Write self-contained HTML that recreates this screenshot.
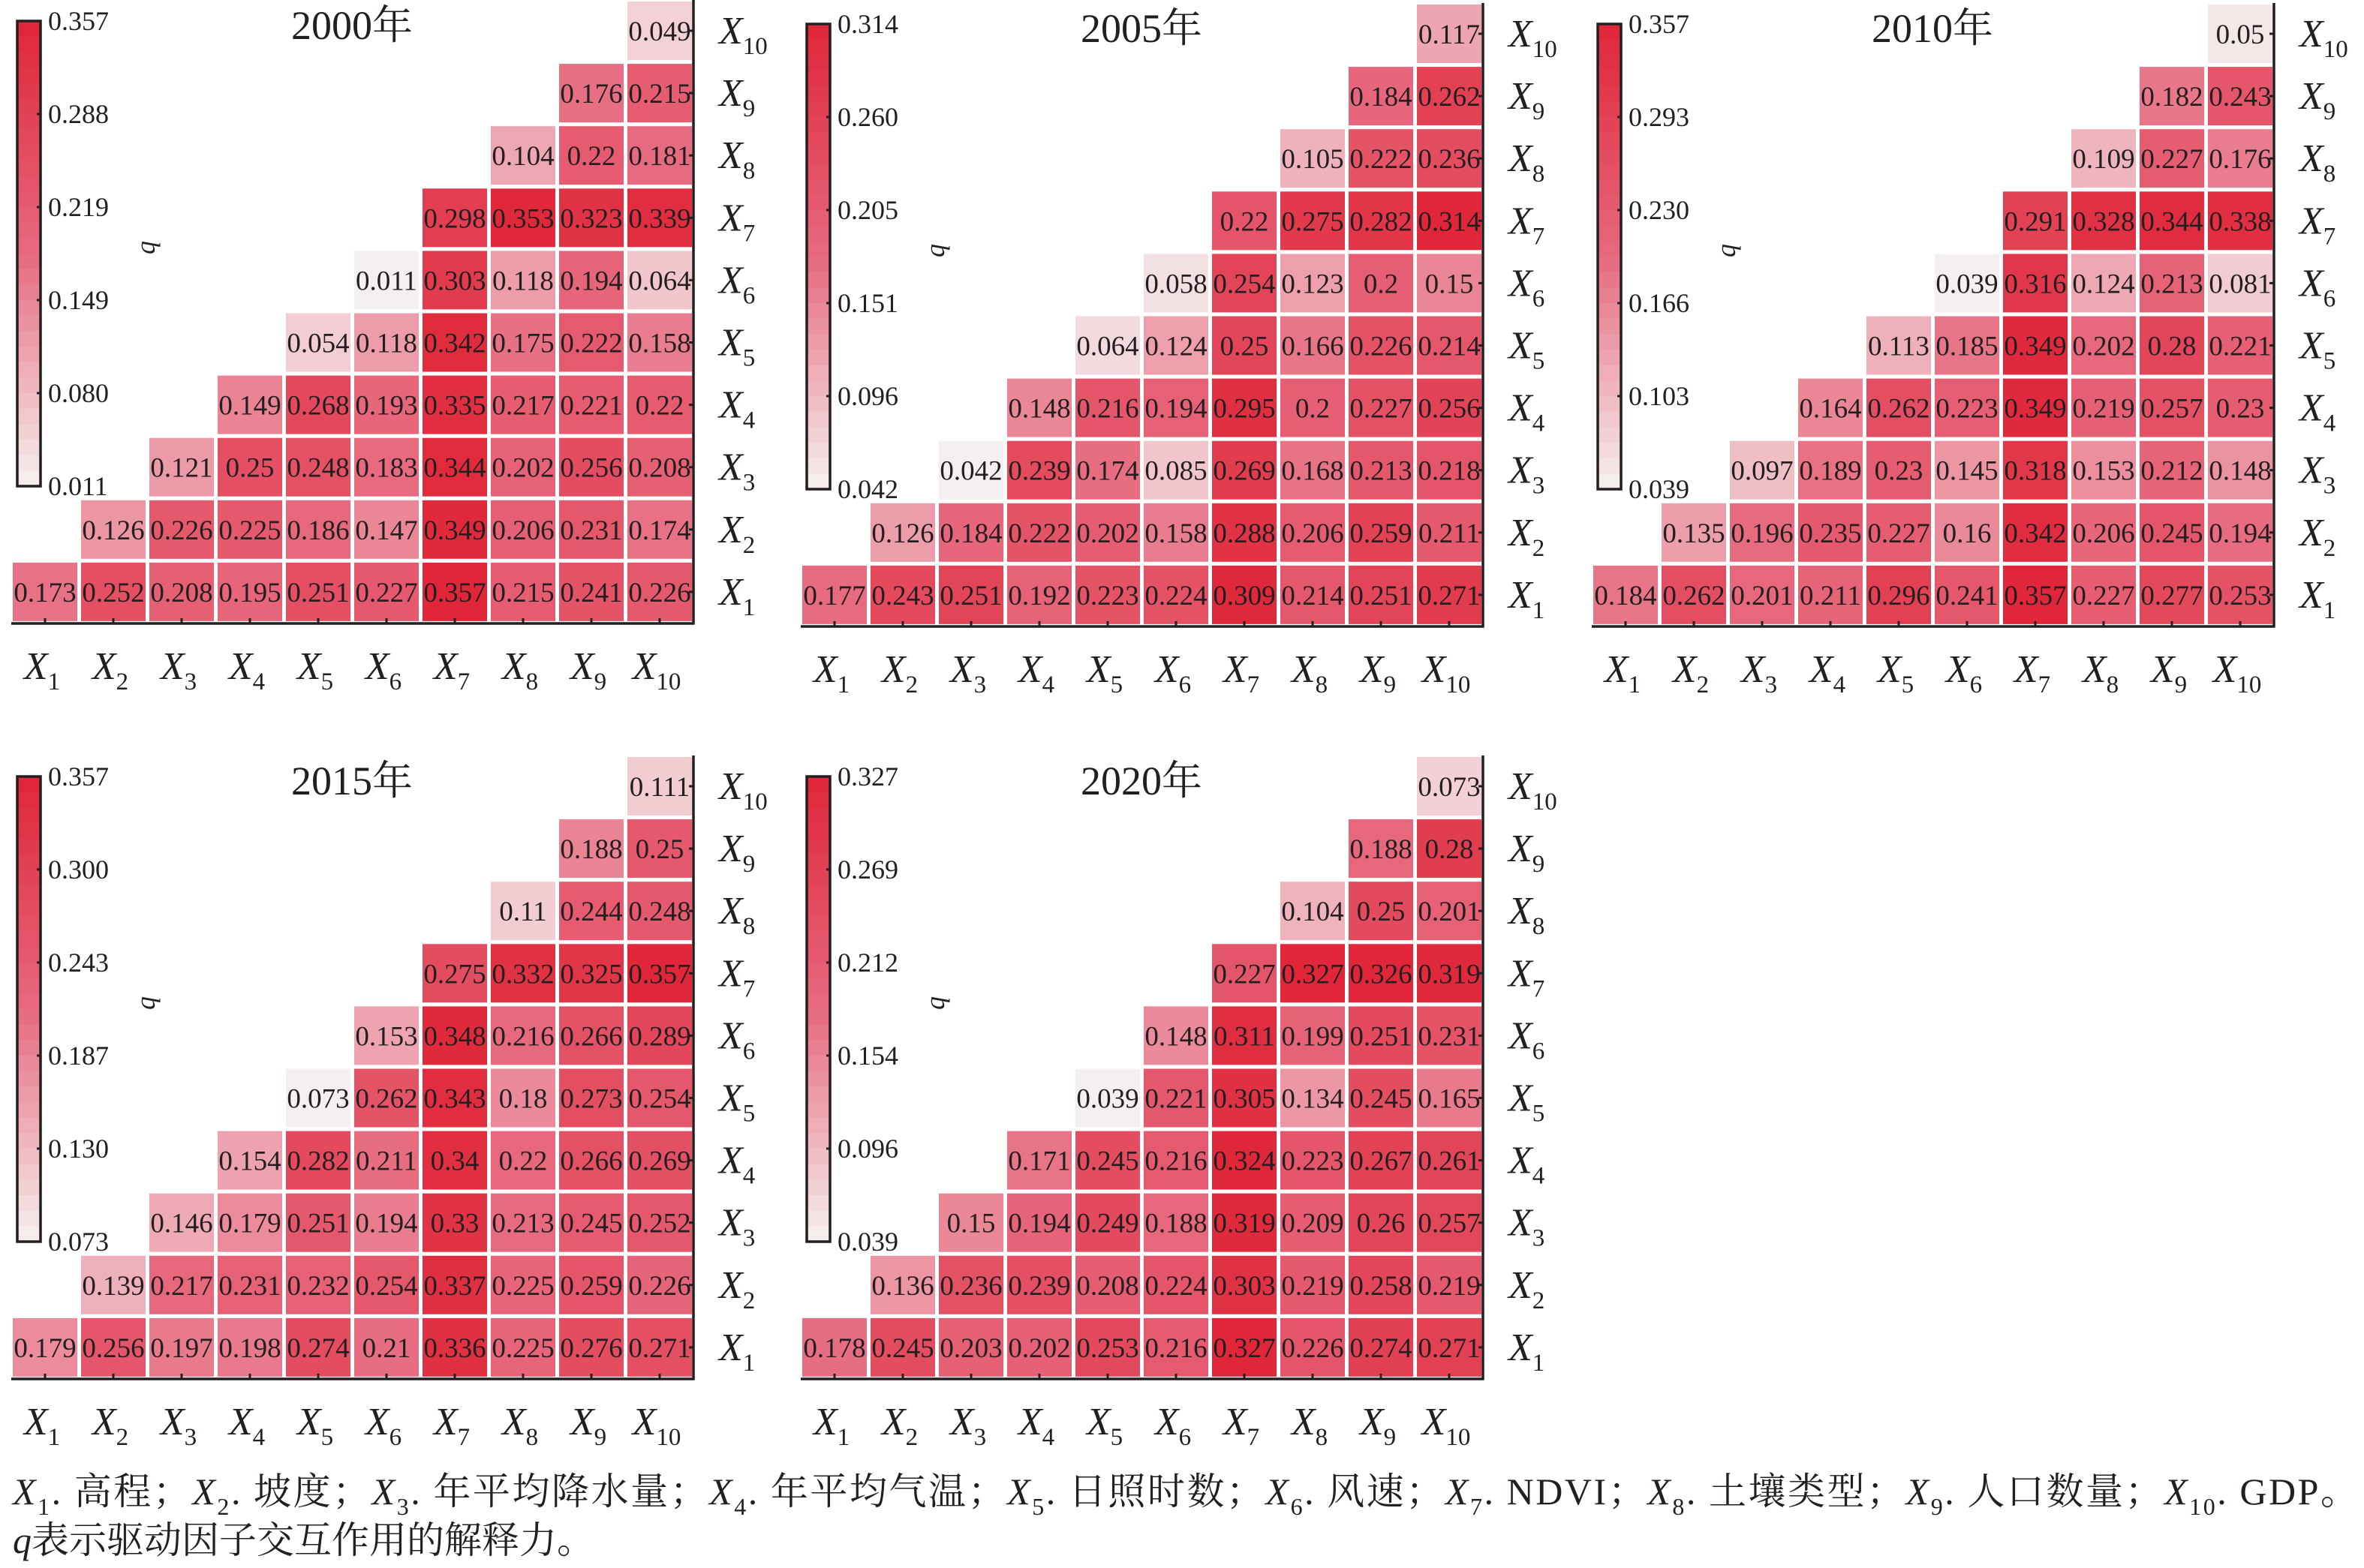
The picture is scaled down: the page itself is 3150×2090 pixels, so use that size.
<!DOCTYPE html>
<html><head><meta charset="utf-8">
<style>
html,body{margin:0;padding:0;background:#fff;}
svg{display:block;}
text{font-family:"Liberation Serif","Noto Serif CJK SC",serif;fill:#231f20;}
</style></head>
<body>
<svg id="s" xmlns="http://www.w3.org/2000/svg" width="3150" height="2090" viewBox="0 0 3150 2090">
<text x="17" y="2005" font-size="50" textLength="3125" lengthAdjust="spacing"><tspan font-style="italic">X</tspan><tspan font-size="32" dy="14">1</tspan><tspan dy="-14">. 高程；</tspan><tspan font-style="italic">X</tspan><tspan font-size="32" dy="14">2</tspan><tspan dy="-14">. 坡度；</tspan><tspan font-style="italic">X</tspan><tspan font-size="32" dy="14">3</tspan><tspan dy="-14">. 年平均降水量；</tspan><tspan font-style="italic">X</tspan><tspan font-size="32" dy="14">4</tspan><tspan dy="-14">. 年平均气温；</tspan><tspan font-style="italic">X</tspan><tspan font-size="32" dy="14">5</tspan><tspan dy="-14">. 日照时数；</tspan><tspan font-style="italic">X</tspan><tspan font-size="32" dy="14">6</tspan><tspan dy="-14">. 风速；</tspan><tspan font-style="italic">X</tspan><tspan font-size="32" dy="14">7</tspan><tspan dy="-14">. NDVI；</tspan><tspan font-style="italic">X</tspan><tspan font-size="32" dy="14">8</tspan><tspan dy="-14">. 土壤类型；</tspan><tspan font-style="italic">X</tspan><tspan font-size="32" dy="14">9</tspan><tspan dy="-14">. 人口数量；</tspan><tspan font-style="italic">X</tspan><tspan font-size="32" dy="14">10</tspan><tspan dy="-14">. GDP。</tspan></text>
<text x="17" y="2070" font-size="50"><tspan font-style="italic">q</tspan>表示驱动因子交互作用的解释力。</text>
</svg>
<script>
var panels=[
{t:"2000年",ox:0,oy:0,ticks:["0.357","0.288","0.219","0.149","0.080","0.011"],mn:0.011,mx:0.357,d:[
[0.173,0.252,0.208,0.195,0.251,0.227,0.357,0.215,0.241,0.226],
[0.126,0.226,0.225,0.186,0.147,0.349,0.206,0.231,0.174],
[0.121,0.25,0.248,0.183,0.344,0.202,0.256,0.208],
[0.149,0.268,0.193,0.335,0.217,0.221,0.22],
[0.054,0.118,0.342,0.175,0.222,0.158],
[0.011,0.303,0.118,0.194,0.064],
[0.298,0.353,0.323,0.339],
[0.104,0.22,0.181],
[0.176,0.215],
[0.049]]},
{t:"2005年",ox:1052,oy:4,ticks:["0.314","0.260","0.205","0.151","0.096","0.042"],mn:0.042,mx:0.314,d:[
[0.177,0.243,0.251,0.192,0.223,0.224,0.309,0.214,0.251,0.271],
[0.126,0.184,0.222,0.202,0.158,0.288,0.206,0.259,0.211],
[0.042,0.239,0.174,0.085,0.269,0.168,0.213,0.218],
[0.148,0.216,0.194,0.295,0.2,0.227,0.256],
[0.064,0.124,0.25,0.166,0.226,0.214],
[0.058,0.254,0.123,0.2,0.15],
[0.22,0.275,0.282,0.314],
[0.105,0.222,0.236],
[0.184,0.262],
[0.117]]},
{t:"2010年",ox:2106,oy:4,ticks:["0.357","0.293","0.230","0.166","0.103","0.039"],mn:0.039,mx:0.357,d:[
[0.184,0.262,0.201,0.211,0.296,0.241,0.357,0.227,0.277,0.253],
[0.135,0.196,0.235,0.227,0.16,0.342,0.206,0.245,0.194],
[0.097,0.189,0.23,0.145,0.318,0.153,0.212,0.148],
[0.164,0.262,0.223,0.349,0.219,0.257,0.23],
[0.113,0.185,0.349,0.202,0.28,0.221],
[0.039,0.316,0.124,0.213,0.081],
[0.291,0.328,0.344,0.338],
[0.109,0.227,0.176],
[0.182,0.243],
[0.05]]},
{t:"2015年",ox:0,oy:1007,ticks:["0.357","0.300","0.243","0.187","0.130","0.073"],mn:0.073,mx:0.357,d:[
[0.179,0.256,0.197,0.198,0.274,0.21,0.336,0.225,0.276,0.271],
[0.139,0.217,0.231,0.232,0.254,0.337,0.225,0.259,0.226],
[0.146,0.179,0.251,0.194,0.33,0.213,0.245,0.252],
[0.154,0.282,0.211,0.34,0.22,0.266,0.269],
[0.073,0.262,0.343,0.18,0.273,0.254],
[0.153,0.348,0.216,0.266,0.289],
[0.275,0.332,0.325,0.357],
[0.11,0.244,0.248],
[0.188,0.25],
[0.111]]},
{t:"2020年",ox:1052,oy:1007,ticks:["0.327","0.269","0.212","0.154","0.096","0.039"],mn:0.039,mx:0.327,d:[
[0.178,0.245,0.203,0.202,0.253,0.216,0.327,0.226,0.274,0.271],
[0.136,0.236,0.239,0.208,0.224,0.303,0.219,0.258,0.219],
[0.15,0.194,0.249,0.188,0.319,0.209,0.26,0.257],
[0.171,0.245,0.216,0.324,0.223,0.267,0.261],
[0.039,0.221,0.305,0.134,0.245,0.165],
[0.148,0.311,0.199,0.251,0.231],
[0.227,0.327,0.326,0.319],
[0.104,0.25,0.201],
[0.188,0.28],
[0.073]]}
];
function col(t){
  var a=[245,240,240],b=[231,105,126],c=[224,38,56],p,q,u;
  if(t<0.5){p=a;q=b;u=t*2;}else{p=b;q=c;u=(t-0.5)*2;}
  return "rgb("+Math.round(p[0]+(q[0]-p[0])*u)+","+Math.round(p[1]+(q[1]-p[1])*u)+","+Math.round(p[2]+(q[2]-p[2])*u)+")";
}
var h="";
panels.forEach(function(P){
  var ox=P.ox,oy=P.oy;
  h+='<g transform="translate('+ox+','+oy+')">';
  for(var j=1;j<=10;j++){
    var row=P.d[j-1];
    var yt=2+(10-j)*83.1;
    for(var k=0;k<row.length;k++){
      var c=j+k; var x=17+91*(c-1);
      var v=row[k];
      h+='<rect x="'+x+'" y="'+yt.toFixed(1)+'" width="86" height="78" fill="'+col((v-P.mn)/(P.mx-P.mn))+'"/>';
      h+='<text x="'+(x+43)+'" y="'+(yt+52).toFixed(1)+'" font-size="37" text-anchor="middle">'+String(v)+'</text>';
    }
    var cy=yt+39;
    h+='<line x1="918" y1="'+cy.toFixed(1)+'" x2="924" y2="'+cy.toFixed(1)+'" stroke="#231f20" stroke-width="3"/>';
    h+='<text x="958" y="'+(cy+17).toFixed(1)+'" font-size="52"><tspan font-style="italic">X</tspan><tspan font-size="33" dy="14">'+j+'</tspan></text>';
  }
  for(var c=1;c<=10;c++){
    var cx=17+91*(c-1)+43;
    h+='<line x1="'+cx+'" y1="824" x2="'+cx+'" y2="831" stroke="#231f20" stroke-width="3"/>';
    h+='<text x="'+(cx-4)+'" y="905" font-size="52" text-anchor="middle"><tspan font-style="italic">X</tspan><tspan font-size="33" dy="14">'+c+'</tspan></text>';
  }
  h+='<line x1="15" y1="831" x2="925.5" y2="831" stroke="#231f20" stroke-width="3.5"/>';
  h+='<line x1="924" y1="0" x2="924" y2="832" stroke="#231f20" stroke-width="3.5"/>';
  var N=30,top=28,bot=648,hh=(bot-top)/N;
  for(var i=0;i<N;i++){
    h+='<rect x="23" y="'+(top+i*hh).toFixed(2)+'" width="31" height="'+(hh+0.6).toFixed(2)+'" fill="'+col(1-(i+0.5)/N)+'"/>';
  }
  h+='<rect x="23" y="'+top+'" width="31" height="'+(bot-top)+'" fill="none" stroke="#231f20" stroke-width="3.5"/>';
  for(var i=0;i<6;i++){
    var ty=top+i*(bot-top)/5;
    if(i>0&&i<5) h+='<line x1="49" y1="'+ty+'" x2="54" y2="'+ty+'" stroke="#231f20" stroke-width="3"/>';
    h+='<text x="64" y="'+(ty+12)+'" font-size="36">'+P.ticks[i]+'</text>';
  }
  h+='<text x="0" y="0" font-size="36" font-style="italic" transform="translate(206,330) rotate(-90)" text-anchor="middle">q</text>';
  h+='<text x="469" y="52" font-size="54" text-anchor="middle">'+P.t+'</text>';
  h+='</g>';
});
document.getElementById("s").insertAdjacentHTML("beforeend",h);
</script>
</body></html>
